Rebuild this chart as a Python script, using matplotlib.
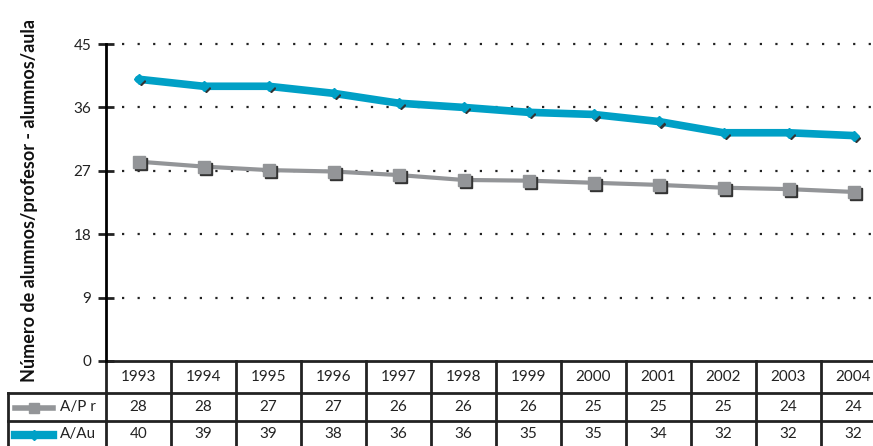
import numpy as np
import matplotlib.pyplot as plt
from matplotlib import transforms

years = ['1993', '1994', '1995', '1996', '1997', '1998',
         '1999', '2000', '2001', '2002', '2003', '2004']
# plotted values
ap_line = [28.3, 27.6, 27.1, 26.9, 26.4, 25.7, 25.6, 25.3, 25.0, 24.6, 24.4, 24.0]
aau_line = [40.0, 39.0, 39.0, 38.0, 36.6, 36.0, 35.3, 35.0, 34.0, 32.4, 32.4, 32.0]
# values printed in the table
ap_tab = [28, 28, 27, 27, 26, 26, 26, 25, 25, 25, 24, 24]
aau_tab = [40, 39, 39, 38, 36, 36, 35, 35, 34, 32, 32, 32]
yticks = [0, 9, 18, 27, 36, 45]

grey = '#939598'
blue = '#00a0c6'
ink = '#222222'

plt.rcParams['font.family'] = ['Lato', 'DejaVu Sans']

W, H = 873, 446
fig = plt.figure(figsize=(W / 100, H / 100), dpi=100)
# axes in pixel terms: x from 106 to 886, y from 361 (0) to 44 (45)
ax = fig.add_axes([106 / W, (H - 361) / H, 780 / W, 317 / H])
ax.set_xlim(-0.5, 11.5)
ax.set_ylim(0, 45)

x = np.arange(len(years))

for yv in yticks[1:]:
    ax.plot([-0.25, 11.5], [yv, yv], color=ink, lw=1.6,
            linestyle=(0, (1, 6)), clip_on=False, zorder=1)

sh = transforms.offset_copy(ax.transData, fig=fig, x=1.5, y=-1.5, units='points')
ax.plot(x, ap_line, color=grey, lw=3, zorder=3)
ax.plot(x, ap_line, 's', color='#333333', ms=8.5, transform=sh, zorder=3)
ax.plot(x, ap_line, 's', color=grey, ms=8.5, zorder=4)
ax.plot(x, aau_line, color=blue, lw=5.5, zorder=5, solid_capstyle='round')
ax.plot(x, aau_line, 'D', color='#333333', ms=4, transform=sh, zorder=5)
ax.plot(x, aau_line, 'D', color=blue, ms=5, zorder=6)

for s in ['top', 'right', 'bottom']:
    ax.spines[s].set_visible(False)
ax.spines['left'].set_linewidth(2)
ax.set_xticks([])
ax.set_yticks(yticks)
ax.tick_params(axis='y', direction='inout', length=11, width=2,
               labelsize=11, colors=ink, pad=5)

# table drawn below the axes
def py(p):
    return (H - p) / H

tr = transforms.blended_transform_factory(ax.transData, fig.transFigure)
lk = dict(color=ink, lw=2, transform=tr, clip_on=False)
ax.plot([-0.5, 11.6], [py(361), py(361)], **lk)
ax.plot([-0.5, 11.6], [py(393), py(393)], **lk)
ax.plot([-0.5, 11.6], [py(421), py(421)], **lk)
for k in range(13):
    ax.plot([k - 0.5, k - 0.5], [py(361), py(446)], **lk)
fig.add_artist(plt.Line2D([8 / W, 106 / W], [py(393), py(393)], color=ink, lw=2))
fig.add_artist(plt.Line2D([8 / W, 106 / W], [py(421), py(421)], color=ink, lw=2))
fig.add_artist(plt.Line2D([8 / W, 8 / W], [py(393), py(446)], color=ink, lw=2))

tk = dict(transform=tr, ha='center', va='center', fontsize=11, color=ink)
for i in range(len(years)):
    ax.text(i, py(377), years[i], **tk)
    ax.text(i, py(407), str(ap_tab[i]), **tk)
    ax.text(i, py(434), str(aau_tab[i]), **tk)

# legend keys in the left cells
fig.add_artist(plt.Line2D([15 / W, 53 / W], [py(408), py(408)], color=grey, lw=4))
fig.add_artist(plt.Line2D([34 / W], [py(408)], marker='s', color=grey, ms=7))
fig.add_artist(plt.Line2D([15 / W, 53 / W], [py(435), py(435)], color=blue, lw=6))
fig.add_artist(plt.Line2D([34 / W], [py(435)], marker='D', color=blue, ms=5))
fig.text(60 / W, py(407), 'A/P r', fontsize=11, va='center', color=ink)
fig.text(60 / W, py(434), 'A/Au', fontsize=11, va='center', color=ink)

fig.text(30 / W, py(200), 'Número de alumnos/profesor - alumnos/aula',
         rotation=90, ha='center', va='center', fontsize=13,
         fontweight='bold', color='#111111')

fig.savefig('out.png', dpi=100)
